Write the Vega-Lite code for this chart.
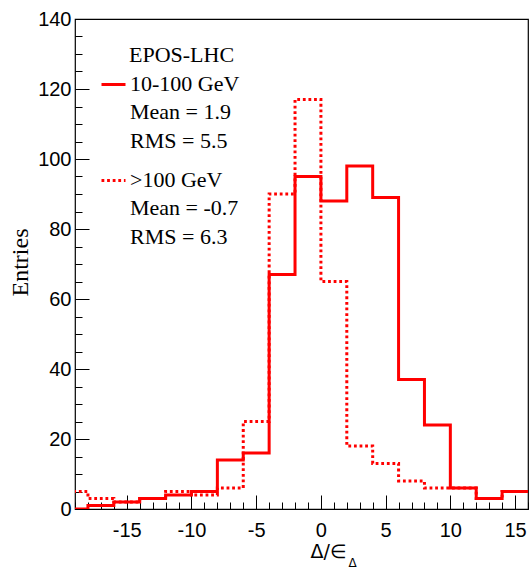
{
  "$schema": "https://vega.github.io/schema/vega-lite/v6.json",
  "width": 453,
  "height": 490,
  "autosize": {"type": "none"},
  "padding": {"left": 75, "top": 19, "right": 1, "bottom": 59},
  "background": "white",
  "config": {
    "view": {"stroke": "black", "strokeWidth": 1.2},
    "axis": {"grid": false, "domain": false, "tickColor": "black", "tickWidth": 1, "labelColor": "black", "titleColor": "black"}
  },
  "data": {
    "values": [
      {"x": -20, "n": 5, "series": ">100 GeV"},
      {"x": -18, "n": 3, "series": ">100 GeV"},
      {"x": -16, "n": 2, "series": ">100 GeV"},
      {"x": -14, "n": 3, "series": ">100 GeV"},
      {"x": -12, "n": 5, "series": ">100 GeV"},
      {"x": -10, "n": 4, "series": ">100 GeV"},
      {"x": -8, "n": 6, "series": ">100 GeV"},
      {"x": -6, "n": 25, "series": ">100 GeV"},
      {"x": -4, "n": 90, "series": ">100 GeV"},
      {"x": -2, "n": 117, "series": ">100 GeV"},
      {"x": 0, "n": 65, "series": ">100 GeV"},
      {"x": 2, "n": 18, "series": ">100 GeV"},
      {"x": 4, "n": 13, "series": ">100 GeV"},
      {"x": 6, "n": 8, "series": ">100 GeV"},
      {"x": 8, "n": 6, "series": ">100 GeV"},
      {"x": 10, "n": 6, "series": ">100 GeV"},
      {"x": 12, "n": 3, "series": ">100 GeV"},
      {"x": 14, "n": 5, "series": ">100 GeV"},
      {"x": 16, "n": 5, "series": ">100 GeV"},
      {"x": -20, "n": 0, "series": "10-100 GeV"},
      {"x": -18, "n": 1, "series": "10-100 GeV"},
      {"x": -16, "n": 2, "series": "10-100 GeV"},
      {"x": -14, "n": 3, "series": "10-100 GeV"},
      {"x": -12, "n": 4, "series": "10-100 GeV"},
      {"x": -10, "n": 5, "series": "10-100 GeV"},
      {"x": -8, "n": 14, "series": "10-100 GeV"},
      {"x": -6, "n": 16, "series": "10-100 GeV"},
      {"x": -4, "n": 67, "series": "10-100 GeV"},
      {"x": -2, "n": 95, "series": "10-100 GeV"},
      {"x": 0, "n": 88, "series": "10-100 GeV"},
      {"x": 2, "n": 98, "series": "10-100 GeV"},
      {"x": 4, "n": 89, "series": "10-100 GeV"},
      {"x": 6, "n": 37, "series": "10-100 GeV"},
      {"x": 8, "n": 24, "series": "10-100 GeV"},
      {"x": 10, "n": 6, "series": "10-100 GeV"},
      {"x": 12, "n": 3, "series": "10-100 GeV"},
      {"x": 14, "n": 5, "series": "10-100 GeV"},
      {"x": 16, "n": 5, "series": "10-100 GeV"}
    ]
  },
  "resolve": {"axis": {"x": "independent", "y": "independent"}},
  "layer": [
    {
      "transform": [{"filter": "datum.series === '>100 GeV'"}],
      "mark": {"type": "line", "interpolate": "step-after", "clip": true, "strokeWidth": 3},
      "encoding": {
        "x": {
          "field": "x", "type": "quantitative",
          "scale": {"domain": [-19, 16], "nice": false, "zero": false},
          "axis": {
            "orient": "bottom",
            "values": [-15, -10, -5, 0, 5, 10, 15],
            "tickSize": -14,
            "labelPadding": 25,
            "labelFont": "Liberation Sans", "labelFontSize": 20,
            "labelExpr": "'' + datum.value",
            "labelFlush": false,
            "title": "Δ/∈",
            "titleFont": "DejaVu Sans", "titleFontSize": 19, "titleFontWeight": "normal",
            "titleAlign": "left", "titleBaseline": "alphabetic", "titleAnchor": "start",
            "titleX": 235, "titleY": 48
          }
        },
        "y": {
          "field": "n", "type": "quantitative",
          "scale": {"domain": [0, 140], "nice": false},
          "axis": {
            "orient": "left",
            "values": [0, 20, 40, 60, 80, 100, 120, 140],
            "tickSize": -14,
            "labelPadding": 18,
            "labelFont": "Liberation Sans", "labelFontSize": 20,
            "labelFlush": false,
            "title": "Entries",
            "titleFont": "Liberation Serif", "titleFontSize": 24, "titleFontWeight": "normal",
            "titleAngle": 270, "titleAlign": "center", "titleBaseline": "alphabetic",
            "titleX": -48, "titleY": 243
          }
        },
        "color": {
          "field": "series", "type": "nominal",
          "scale": {"domain": ["10-100 GeV", ">100 GeV"], "range": ["#ff0000", "#ff0000"]},
          "legend": {
            "title": "EPOS-LHC", "orient": "none", "legendX": 25, "legendY": 26,
            "symbolType": "stroke", "symbolSize": 576, "symbolStrokeWidth": 3,
            "labelOffset": 3, "labelFont": "Liberation Serif", "labelFontSize": 22, "labelColor": "black",
            "labelLimit": 0, "labelBaseline": "top",
            "labelExpr": "datum.label == '10-100 GeV' ? ['10-100 GeV', 'Mean = 1.9', 'RMS = 5.5'] : ['>100 GeV', 'Mean = -0.7', 'RMS = 6.3']",
            "titleFont": "Liberation Serif", "titleFontSize": 22, "titleFontWeight": "normal", "titleColor": "black",
            "titlePadding": 4, "rowPadding": 15, "padding": 0,
            "encode": {
              "title": {"update": {"dx": {"value": 29}}},
              "labels": {"update": {"dy": {"value": -11}, "lineHeight": {"value": 28.5}}}
            }
          }
        },
        "strokeDash": {
          "field": "series", "type": "nominal",
          "scale": {"domain": ["10-100 GeV", ">100 GeV"], "range": [[1, 0], [2.8, 2.8]]},
          "legend": {
            "title": "EPOS-LHC", "orient": "none", "legendX": 25, "legendY": 26,
            "symbolType": "stroke", "symbolSize": 576, "symbolStrokeWidth": 3,
            "labelOffset": 3, "labelFont": "Liberation Serif", "labelFontSize": 22, "labelColor": "black",
            "labelLimit": 0, "labelBaseline": "top",
            "labelExpr": "datum.label == '10-100 GeV' ? ['10-100 GeV', 'Mean = 1.9', 'RMS = 5.5'] : ['>100 GeV', 'Mean = -0.7', 'RMS = 6.3']",
            "titleFont": "Liberation Serif", "titleFontSize": 22, "titleFontWeight": "normal", "titleColor": "black",
            "titlePadding": 4, "rowPadding": 15, "padding": 0,
            "encode": {
              "title": {"update": {"dx": {"value": 29}}},
              "labels": {"update": {"dy": {"value": -11}, "lineHeight": {"value": 28.5}}}
            }
          }
        }
      }
    },
    {
      "transform": [{"filter": "datum.series === '10-100 GeV'"}],
      "mark": {"type": "line", "interpolate": "step-after", "clip": true, "strokeWidth": 3, "color": "#ff0000"},
      "encoding": {
        "x": {
          "field": "x", "type": "quantitative",
          "axis": {
            "orient": "bottom",
            "values": [-19, -18, -17, -16, -14, -13, -12, -11, -9, -8, -7, -6, -4, -3, -2, -1, 1, 2, 3, 4, 6, 7, 8, 9, 11, 12, 13, 14, 16],
            "tickSize": -7,
            "labels": false,
            "title": "Δ",
            "titleFont": "DejaVu Sans", "titleFontSize": 12, "titleFontWeight": "normal",
            "titleAlign": "left", "titleBaseline": "alphabetic", "titleAnchor": "start",
            "titleX": 273, "titleY": 57
          }
        },
        "y": {
          "field": "n", "type": "quantitative",
          "axis": {
            "orient": "left",
            "values": [5, 10, 15, 25, 30, 35, 45, 50, 55, 65, 70, 75, 85, 90, 95, 105, 110, 115, 125, 130, 135],
            "tickSize": -7,
            "labels": false,
            "title": null
          }
        }
      }
    }
  ]
}
